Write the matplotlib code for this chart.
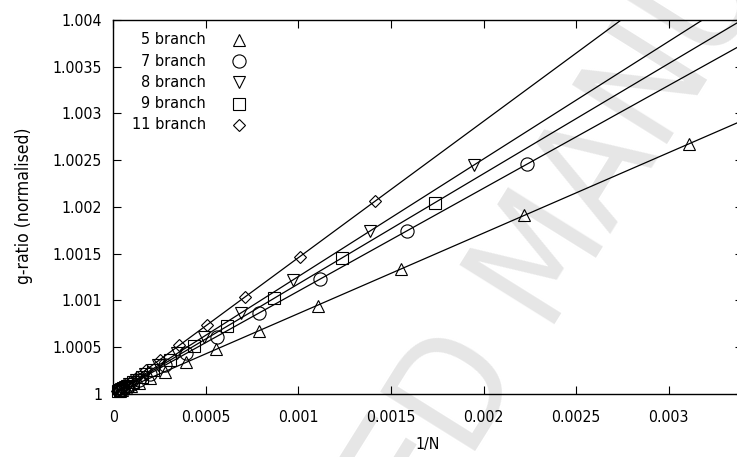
import matplotlib
matplotlib.use("Agg")
import matplotlib.pyplot as plt
from matplotlib.ticker import MultipleLocator, FormatStrFormatter
import numpy as np

# g-ratio (normalised) vs 1/N
labels = ["5 branch", "7 branch", "8 branch", "9 branch", "11 branch"]
markers = ["^", "o", "v", "s", "D"]

x5 = [0.00311, 0.00222, 0.001555, 0.001105, 0.000785, 0.000555, 0.000392,
      0.000277, 0.000196, 0.000139, 0.000098, 0.0000693, 0.000049, 0.0000347]
y5 = [1.002678, 1.001911, 1.001338, 1.000945, 1.000672, 1.000477, 1.000338,
      1.000239, 1.000169, 1.00012, 1.0000845, 1.0000597, 1.0000422, 1.0000299]

x7 = [0.002233, 0.001585, 0.001116, 0.000788, 0.000558, 0.000394, 0.000279,
      0.000197, 0.000139, 0.0000985, 0.0000697, 0.0000493, 0.0000348]
y7 = [1.002456, 1.001744, 1.001228, 1.000867, 1.000614, 1.000433, 1.000307,
      1.000217, 1.000153, 1.000108, 1.0000767, 1.0000542, 1.0000383]

x8 = [0.001949, 0.001386, 0.000972, 0.00069, 0.000488, 0.000345, 0.000244,
      0.000173, 0.000122, 0.0000863, 0.000061, 0.0000432, 0.0000305]
y8 = [1.00245, 1.001742, 1.001222, 1.000867, 1.000613, 1.000434, 1.000307,
      1.000217, 1.000153, 1.000108, 1.0000767, 1.0000543, 1.0000383]

x9 = [0.001738, 0.001234, 0.000868, 0.000614, 0.000434, 0.000307, 0.000217,
      0.000153, 0.000109, 0.0000767, 0.0000543, 0.0000384, 0.0000271]
y9 = [1.002047, 1.001454, 1.001023, 1.000723, 1.000511, 1.000362, 1.000256,
      1.00018, 1.000128, 1.0000904, 1.000064, 1.0000452, 1.0000319]

x11 = [0.001414, 0.001008, 0.000713, 0.000504, 0.000356, 0.000252, 0.000178,
       0.000126, 0.0000891, 0.000063, 0.0000445, 0.0000315, 0.0000223]
y11 = [1.002062, 1.00147, 1.00104, 1.000735, 1.000519, 1.000367, 1.00026,
       1.000184, 1.00013, 1.0000919, 1.0000649, 1.0000459, 1.0000325]

xs = [x5, x7, x8, x9, x11]
ys = [y5, y7, y8, y9, y11]
msizes = [9, 9.5, 9, 9, 6.3]

plt.rcParams["font.family"] = ["DejaVu Sans"]
plt.rcParams["font.stretch"] = "condensed"
fs = 11.3

fig = plt.figure(figsize=(7.37, 4.57), dpi=100)
ax = fig.add_axes([0.1537, 0.1379, 0.8542, 0.8184])
ax.patch.set_visible(False)

# watermark behind the plot
fig.text(546 / 737, 1 - 258 / 457, "ACCEPTED MANUSCRIPT", rotation=58,
         rotation_mode="anchor", ha="center", va="center", fontsize=110,
         color="#e6e6e6", zorder=-5)

xfit = np.linspace(0, 0.0034, 200)
for x, y, m, ms in zip(xs, ys, markers, msizes):
    x = np.array(x)
    y = np.array(y)
    p = np.polyfit(x, y, 1)
    ax.plot(xfit, np.polyval(p, xfit), color="black", lw=0.9, zorder=2)
    ax.plot(x, y, linestyle="none", marker=m, ms=ms, mfc="none", mec="black",
            mew=0.8, zorder=3, clip_on=False)

# legend: text then marker
for i, (lab, m, ms) in enumerate(zip(labels, markers, msizes)):
    yy = 0.9465 - i * 0.0568
    ax.text(0.1473, yy, lab, transform=ax.transAxes, ha="right", va="center",
            fontsize=11.6)
    ax.plot([0.1997], [yy], transform=ax.transAxes, marker=m, ms=ms,
            mfc="none", mec="black", mew=0.8, linestyle="none")

ax.set_xlim(0, 0.0034)
ax.set_ylim(1, 1.004)
ax.xaxis.set_major_locator(MultipleLocator(0.0005))
ax.yaxis.set_major_locator(MultipleLocator(0.0005))
ax.xaxis.set_major_formatter(FormatStrFormatter("%g"))
ax.yaxis.set_major_formatter(FormatStrFormatter("%g"))
ax.tick_params(direction="in", length=6, width=0.8, top=True, right=True,
               labelsize=fs, colors="black")
ax.tick_params(axis="y", pad=8)
ax.tick_params(axis="x", pad=11.5)
for s in ax.spines.values():
    s.set_linewidth(1.0)

fig.text(428 / 737, 1 - 444 / 457, "1/N", ha="center", va="center", fontsize=fs)
fig.text(24 / 737, 1 - 206 / 457, "g-ratio (normalised)", rotation=90,
         ha="center", va="center", fontsize=12.6)

fig.savefig("out.png", dpi=100)
